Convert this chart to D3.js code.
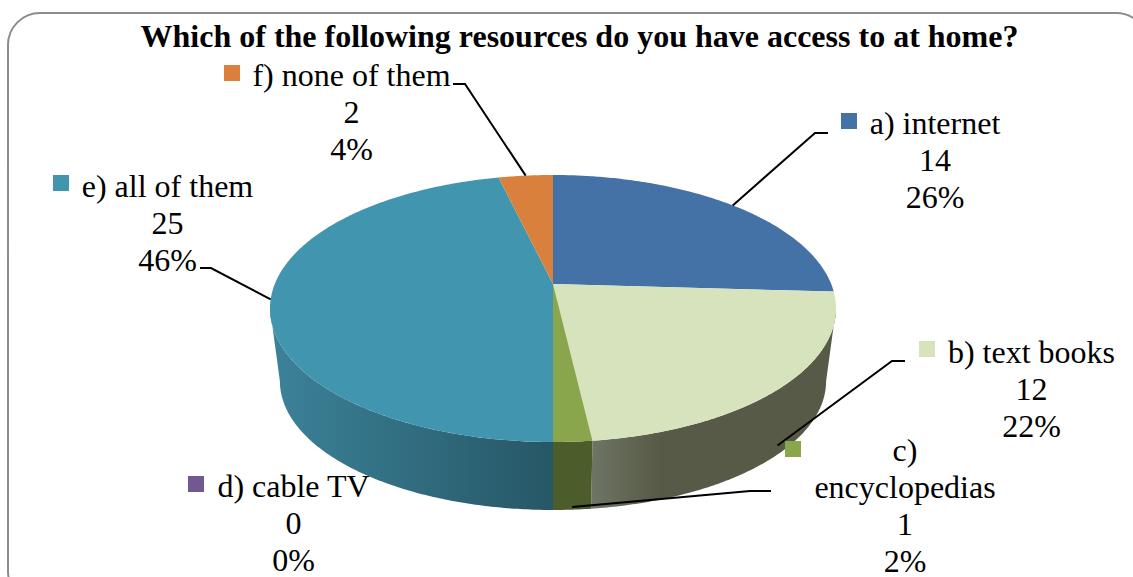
<!DOCTYPE html>
<html>
<head>
<meta charset="utf-8">
<script src="https://cdn.jsdelivr.net/npm/d3@7"></script>
<style>
  html, body { margin: 0; padding: 0; background: #fff; overflow: hidden; }
  text { font-family: "Liberation Serif", serif; fill: #000; }
</style>
</head>
<body>
<svg id="chart" width="1133" height="577"></svg>
<script>
// Survey responses
const categories = ["a) internet", "b) text books", "c) encyclopedias", "d) cable TV", "e) all of them", "f) none of them"];
const counts = [14, 12, 1, 0, 25, 2];
const percents = ["26%", "22%", "2%", "0%", "46%", "4%"];
const topColors = ["#4471a6", "#d7e3bc", "#8aa64d", "#71588f", "#4195ae", "#d9813c"];
const wallLight = ["#3a6088", "#6f7565", "#4c5c2a", "#5a4672", "#3c8299", "#b06a30"];
const wallDark = ["#2e4d70", "#565a46", "#4c5c2a", "#463858", "#265766", "#8a5226"];
const titleText = "Which of the following resources do you have access to at home?";

// Label block layout: swatch position, centre of the text, baseline of the first line
const labelLayout = [
  { sx: 841, sy: 113, cx: 935, y: 134, lines: ["a) internet"] },
  { sx: 919, sy: 341, cx: 1031.5, y: 362.5, lines: ["b) text books"] },
  { sx: 785, sy: 441, cx: 905, y: 461, lines: ["c)", "encyclopedias"] },
  { sx: 188, sy: 476, cx: 293.5, y: 497, lines: ["d) cable TV"] },
  { sx: 53, sy: 175, cx: 167.5, y: 197, lines: ["e) all of them"] },
  { sx: 224, sy: 65, cx: 351.5, y: 86, lines: ["f) none of them"] }
];

// Leader polylines: elbow and end of the label side, and how far down the wall the pie end sits
const leaders = [
  { i: 0, elbow: [815, 133], end: [828, 133], wall: 0 },
  { i: 1, elbow: [892, 361], end: [905, 361], wall: 0.86 },
  { i: 2, elbow: [750, 491], end: [771, 491], wall: 0.96 },
  { i: 4, elbow: [211, 268], end: [200, 268], wall: 0 },
  { i: 5, elbow: [465, 84], end: [453, 84], wall: 0 }
];

const svg = d3.select("#chart");
const defs = svg.append("defs");

// Tilted disc with perspective: (u, v) on the unit circle maps to the screen
const apex = { x: 553, y: 284 };
const radiusX = 278.2, radiusY = 129, persp = 0.1835;
const depthDrop = 73.5, floorScale = 0.965;

function project(angle, floor) {
  const u = Math.sin(angle), v = -Math.cos(angle);
  const w = 1 - persp * v;
  const s = floor ? floorScale : 1;
  return [apex.x + s * radiusX * u / w,
          apex.y + (floor ? depthDrop : 0) + s * radiusY * v / w];
}

function arcPoints(a0, a1, floor) {
  const n = Math.max(2, Math.ceil(Math.abs(a1 - a0) / 0.01));
  return d3.range(n + 1).map(k => project(a0 + (a1 - a0) * k / n, floor));
}

const pie = d3.pie().sort(null).value(d => d);
const arcs = pie(counts);
const line = d3.line();

// Outer wall of the pie, between the two silhouette points of the projected circle
const wallFrom = Math.acos(-persp), wallTo = 2 * Math.PI - wallFrom;
const wallGroup = svg.append("g");
arcs.forEach((a, i) => {
  const a0 = Math.max(a.startAngle, wallFrom), a1 = Math.min(a.endAngle, wallTo);
  if (a1 <= a0) return;
  const topEdge = arcPoints(a0, a1, false), floorEdge = arcPoints(a0, a1, true).reverse();
  const gradId = "wall-" + i;
  const pts = topEdge.concat(floorEdge);
  const xs = d3.extent(pts, p => p[0]);
  const grad = defs.append("linearGradient").attr("id", gradId)
    .attr("gradientUnits", "userSpaceOnUse")
    .attr("x1", xs[0]).attr("x2", xs[1]).attr("y1", 0).attr("y2", 0);
  grad.append("stop").attr("offset", 0).attr("stop-color", wallLight[i]);
  // The text-books wall loses its highlight quickly and then stays flat
  if (i === 1) grad.append("stop").attr("offset", 0.28).attr("stop-color", wallDark[i]);
  grad.append("stop").attr("offset", 1).attr("stop-color", wallDark[i]);
  wallGroup.append("path").attr("d", line(pts) + "Z").attr("fill", `url(#${gradId})`);
});

// Top face of the pie
const faceGroup = svg.append("g");
arcs.forEach((a, i) => {
  if (a.endAngle <= a.startAngle) return;
  const pts = [[apex.x, apex.y]].concat(arcPoints(a.startAngle, a.endAngle, false));
  faceGroup.append("path").attr("d", line(pts) + "Z").attr("fill", topColors[i]);
});

// Leader lines from the slices out to their labels
const leaderGroup = svg.append("g").attr("fill", "none").attr("stroke", "#000").attr("stroke-width", 2);
leaders.forEach(l => {
  const a = arcs[l.i];
  const mid = (a.startAngle + a.endAngle) / 2;
  const p0 = project(mid, false), p1 = project(mid, true);
  const anchor = [p0[0] + (p1[0] - p0[0]) * l.wall, p0[1] + (p1[1] - p0[1]) * l.wall];
  leaderGroup.append("path").attr("d", line([anchor, l.elbow, l.end]));
});

// Data labels with their colour swatches
const labelGroup = svg.append("g").attr("font-size", 32).attr("text-anchor", "middle");
const lineStep = 37;
categories.forEach((c, i) => {
  const lay = labelLayout[i];
  svg.append("rect").attr("x", lay.sx).attr("y", lay.sy).attr("width", 16).attr("height", 16)
    .attr("fill", topColors[i]);
  const rows = lay.lines.concat([String(counts[i]), percents[i]]);
  rows.forEach((r, k) => {
    labelGroup.append("text").attr("x", lay.cx).attr("y", lay.y + k * lineStep).text(r);
  });
});

// Title
svg.append("text").attr("x", 579.5).attr("y", 47).attr("text-anchor", "middle")
  .attr("font-size", 32).attr("font-weight", "bold").text(titleText);

// Chart frame with rounded corners, running off the right and bottom edges
svg.append("rect").attr("x", 8).attr("y", 13).attr("width", 1140).attr("height", 590)
  .attr("rx", 32).attr("ry", 32).attr("fill", "none").attr("stroke", "#8c8c8c").attr("stroke-width", 2);
</script>
</body>
</html>
